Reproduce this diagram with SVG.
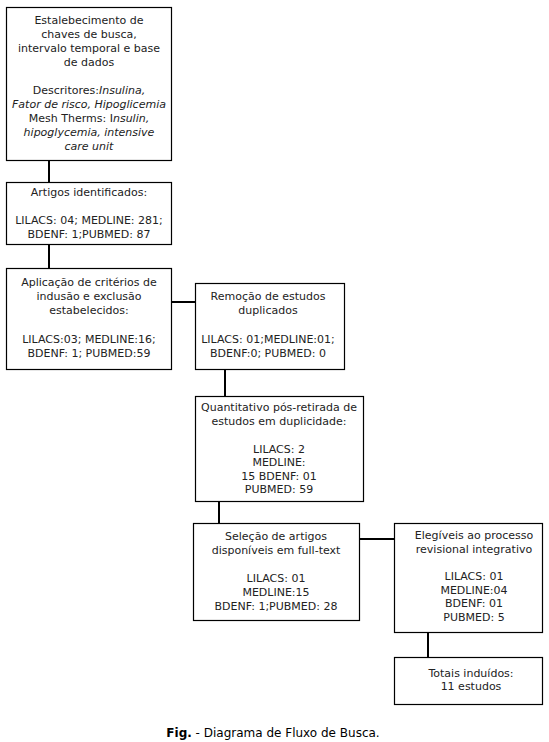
<svg xmlns="http://www.w3.org/2000/svg" width="549" height="742" viewBox="0 0 549 742">
<style>
.box{fill:#ffffff;stroke:#000000;stroke-width:1.2}
.t{font-family:"DejaVu Sans",Verdana,sans-serif;font-size:11px;fill:#222222;text-anchor:middle}
.i{font-style:italic}
.c{stroke:#000000;stroke-width:2;fill:none}
</style>
<rect width="549" height="742" fill="#ffffff"/>
<g id="connectors">
<line class="c" x1="49" y1="160" x2="49" y2="182"/>
<line class="c" x1="49" y1="244" x2="49" y2="268"/>
<line class="c" x1="171" y1="302" x2="195" y2="302"/>
<line class="c" x1="225" y1="369" x2="225" y2="396"/>
<line class="c" x1="219" y1="501" x2="219" y2="523"/>
<line class="c" x1="359" y1="539" x2="394" y2="539"/>
<line class="c" x1="428" y1="632" x2="428" y2="657"/>
</g>
<g id="n1">
<rect class="box" x="6.5" y="7.5" width="165" height="153"/>
<text class="t" x="89" y="24">Estalebecimento de</text>
<text class="t" x="89" y="38">chaves de busca,</text>
<text class="t" x="89" y="52">intervalo temporal e base</text>
<text class="t" x="89" y="66">de dados</text>
<text class="t" x="89" y="94">Descritores:<tspan class="i">Insulina,</tspan></text>
<text class="t i" x="89" y="108">Fator de risco, Hipoglicemia</text>
<text class="t" x="89" y="122">Mesh Therms: I<tspan class="i">nsulin,</tspan></text>
<text class="t i" x="89" y="136">hipoglycemia, intensive</text>
<text class="t i" x="89" y="150">care unit</text>
</g>
<g id="n2">
<rect class="box" x="6.5" y="182.5" width="165" height="62"/>
<text class="t" x="89" y="196">Artigos identificados:</text>
<text class="t" x="89" y="224">LILACS: 04; MEDLINE: 281;</text>
<text class="t" x="89" y="238">BDENF: 1;PUBMED: 87</text>
</g>
<g id="n3">
<rect class="box" x="6.5" y="268.5" width="165" height="101"/>
<text class="t" x="89" y="286">Aplicação de critérios de</text>
<text class="t" x="89" y="300">indusão e exclusão</text>
<text class="t" x="89" y="314">estabelecidos:</text>
<text class="t" x="89" y="343">LILACS:03; MEDLINE:16;</text>
<text class="t" x="89" y="357">BDENF: 1; PUBMED:59</text>
</g>
<g id="n4">
<rect class="box" x="195.5" y="283.5" width="149" height="86"/>
<text class="t" x="268" y="300">Remoção de estudos</text>
<text class="t" x="268" y="314">duplicados</text>
<text class="t" x="268" y="343">LILACS: 01;MEDLINE:01;</text>
<text class="t" x="268" y="357">BDENF:0; PUBMED: 0</text>
</g>
<g id="n5">
<rect class="box" x="195.5" y="396.5" width="168" height="105"/>
<text class="t" x="279" y="411">Quantitativo pós-retirada de</text>
<text class="t" x="279" y="425">estudos em duplicidade:</text>
<text class="t" x="279" y="453">LILACS: 2</text>
<text class="t" x="279" y="466">MEDLINE:</text>
<text class="t" x="279" y="480">15 BDENF: 01</text>
<text class="t" x="279" y="493">PUBMED: 59</text>
</g>
<g id="n6">
<rect class="box" x="193.5" y="523.5" width="166" height="97"/>
<text class="t" x="276" y="540">Seleção de artigos</text>
<text class="t" x="276" y="554">disponíveis em full-text</text>
<text class="t" x="276" y="582">LILACS: 01</text>
<text class="t" x="276" y="596">MEDLINE:15</text>
<text class="t" x="276" y="610">BDENF: 1;PUBMED: 28</text>
</g>
<g id="n7">
<rect class="box" x="394.5" y="523.5" width="148" height="109"/>
<text class="t" x="474" y="539">Elegíveis ao processo</text>
<text class="t" x="474" y="553">revisional integrativo</text>
<text class="t" x="474" y="580">LILACS: 01</text>
<text class="t" x="474" y="594">MEDLINE:04</text>
<text class="t" x="474" y="607">BDENF: 01</text>
<text class="t" x="474" y="621">PUBMED: 5</text>
</g>
<g id="n8">
<rect class="box" x="394.5" y="657.5" width="148" height="47"/>
<text class="t" x="471" y="677">Totais induídos:</text>
<text class="t" x="471" y="690">11 estudos</text>
</g>
<text class="t" x="273" y="737" style="fill:#000000;font-size:12px"><tspan font-weight="bold">Fig.</tspan> - Diagrama de Fluxo de Busca.</text>
</svg>
